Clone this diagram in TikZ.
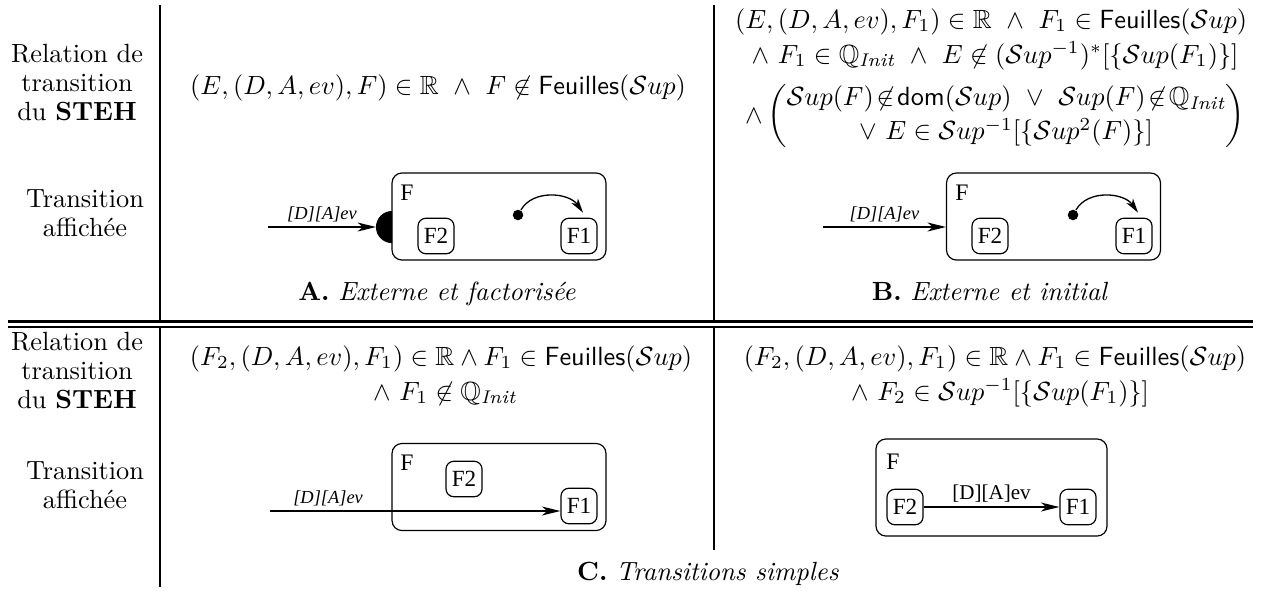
\documentclass[tikz,border=0pt]{standalone}
\usepackage{amsmath,amssymb}
\usepackage{fontspec}
\newfontfamily\tms{Liberation Serif}
\usetikzlibrary{arrows.meta,calc}
\begin{document}
\begin{tikzpicture}[x=0.38pt,y=0.38pt,
  lab/.style={anchor=base, inner sep=0},
  rule/.style={line width=0.9pt},
  etat/.style={draw, line width=0.45pt, rounded corners=3pt, minimum width=13.7pt, minimum height=13.5pt, inner sep=0, font=\tms\fontsize{8.8}{9}\selectfont},
  super/.style={draw, line width=0.45pt, rounded corners=3.8pt, inner sep=0, minimum width=81.3pt, minimum height=33.1pt},
  flabel/.style={font=\tms\fontsize{9}{10}\selectfont, inner sep=0},
  arr/.style={line width=0.5pt, -{Stealth[length=7pt,width=3.4pt,inset=2pt]}},
  arcarr/.style={line width=0.5pt, -{Stealth[length=5.5pt,width=3pt,inset=1.5pt]}},
  evlab/.style={font=\tms\itshape\fontsize{7}{8}\selectfont, inner sep=1.5pt},
  dotst/.style={circle, fill, inner sep=0, minimum size=4pt}
]
\useasboundingbox (0,0) rectangle (1269,590);
% table rules
\draw[rule] (160,585) -- (160,268.5);
\draw[rule] (714,585) -- (714,268.5);
\draw[rule] (8,268.5) -- (1253,268.5);
\draw[rule] (8,263) -- (1253,263);
\draw[rule] (160,263) -- (160,3);
\draw[rule] (714,263) -- (714,40);
% left column labels
\node[lab] (r1) at (77,528) {Relation de};
\node[lab] (r2) at (77,499) {transition};
\node[lab] (r3) at (77,470) {du \textbf{STEH}};
\node[lab] (t1) at (85,383) {Transition};
\node[lab] (t2) at (85,354) {affichée};
\node[lab] (r4) at (77,240) {Relation de};
\node[lab] (r5) at (77,211) {transition};
\node[lab] (r6) at (77,182) {du \textbf{STEH}};
\node[lab] (t3) at (85,111) {Transition};
\node[lab] (t4) at (85,82) {affichée};
% formulas
\node[lab] (fA) at (438,496) {$(E,(D,A,ev),F) \in \mathbb{R}\ \wedge\ F \not\in \mathsf{Feuilles}(\mathcal{S}up)$};
\node[lab] (fB1) at (991,562) {$(E,(D,A,ev),F_1) \in \mathbb{R}\ \wedge\ F_1 \in \mathsf{Feuilles}(\mathcal{S}up)$};
\node[lab] (fB2) at (995,527) {$\wedge\ F_1 \in \mathbb{Q}_{\mathit{Init}}\ \wedge\ E \not\in (\mathcal{S}up^{-1})^{*}[\{\mathcal{S}up(F_1)\}]$};
\node[lab] (fB3) at (995,467) {$\wedge \left(\begin{array}{@{}c@{}}\mathcal{S}up(F)\!\not\in\!\mathsf{dom}(\mathcal{S}up)\ \vee\ \mathcal{S}up(F)\!\not\in\!\mathbb{Q}_{\mathit{Init}}\\[1pt] \vee\ E \in \mathcal{S}up^{-1}[\{\mathcal{S}up^{2}(F)\}]\end{array}\right)$};
\node[lab] (fC1) at (441,225) {$(F_2,(D,A,ev),F_1) \in \mathbb{R} \wedge F_1 \in \mathsf{Feuilles}(\mathcal{S}up)$};
\node[lab] (fC2) at (445,190) {$\wedge\ F_1 \not\in \mathbb{Q}_{\mathit{Init}}$};
\node[lab] (fD1) at (995,225) {$(F_2,(D,A,ev),F_1) \in \mathbb{R} \wedge F_1 \in \mathsf{Feuilles}(\mathcal{S}up)$};
\node[lab] (fD2) at (1000,190) {$\wedge\ F_2 \in \mathcal{S}up^{-1}[\{\mathcal{S}up(F_1)\}]$};
% captions
\node[lab] (capA) at (437,290) {\textbf{A.} \textit{Externe et factorisée}};
\node[lab] (capB) at (990,290) {\textbf{B.} \textit{Externe et initial}};
\node[lab] (capC) at (708,10) {\textbf{C.} \textit{Transitions simples}};
% ---- diagram A
\node[super] (boxA) at (499,373.5) {};
\node[flabel] (FA) at (407,397) {F};
\node[etat] (F2A) at (436,354) {F2};
\node[etat] (F1A) at (579,354) {F1};
\node[dotst] (dotA) at (518,375) {};
\draw[arcarr] (dotA) to[out=60,in=125] ($(F1A.north)+(4,5)$);
\fill (392,379) arc[start angle=90,end angle=270,radius=6.1pt] -- cycle;
\coordinate (sA) at (268,363);
\coordinate (tA) at (376,363);
\draw[arr] (sA) -- node[evlab, above] {[D][A]ev} (tA);
% ---- diagram B
\node[super] (boxB) at (1053.5,373.5) {};
\node[flabel] (FB) at (962,397) {F};
\node[etat] (F2B) at (990,354) {F2};
\node[etat] (F1B) at (1134,354) {F1};
\node[dotst] (dotB) at (1073,375) {};
\draw[arcarr] (dotB) to[out=60,in=125] ($(F1B.north)+(4,5)$);
\coordinate (sB) at (823,363);
\draw[arr] (sB) -- node[evlab, above] {[D][A]ev} (sB -| boxB.west);
% ---- diagram C left
\node[super] (boxC) at (499,103) {};
\node[flabel] (FC) at (407,127) {F};
\node[etat] (F2C) at (464,111) {F2};
\node[etat] (F1C) at (579,84) {F1};
\coordinate (sC) at (270,79);
\draw[arr] (sC) -- node[evlab, above, pos=0.2] {[D][A]ev} (sC -| F1C.west);
% ---- diagram C right
\node[super, minimum width=87.8pt, minimum height=36.9pt] (boxD) at (991.5,102.5) {};
\node[flabel] (FD) at (893,128) {F};
\node[etat] (F2D) at (905,83) {F2};
\node[etat] (F1D) at (1078,83) {F1};
\draw[arr] (F2D) -- node[above, inner sep=1.5pt, font=\tms\fontsize{8}{9}\selectfont] {[D][A]ev} (F1D);
\end{tikzpicture}
\end{document}
